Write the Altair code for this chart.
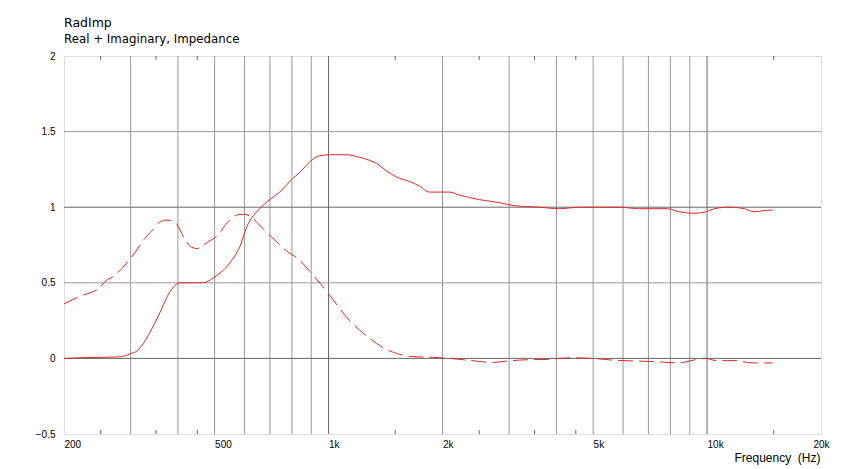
import altair as alt
import pandas as pd

# Real part (solid)
freq_real = [200, 226, 281, 299, 312, 337, 358, 381, 405, 465, 501, 548, 583, 608, 658,
             699, 743, 804, 839, 892, 947, 1006, 1116, 1208, 1284, 1339, 1423, 1512, 1636,
             1739, 1848, 2086, 2217, 2504, 2828, 3098, 3606, 4072, 4597, 5192, 5862, 6618,
             7848, 8440, 9243, 9943, 10444, 11440, 12530, 13315, 14590, 14900]
val_real = [0.0, 0.005, 0.01, 0.03, 0.05, 0.17, 0.30, 0.44, 0.50, 0.50, 0.54, 0.63, 0.74,
            0.87, 0.99, 1.05, 1.10, 1.19, 1.23, 1.30, 1.34, 1.347, 1.347, 1.33, 1.31, 1.29,
            1.24, 1.20, 1.17, 1.14, 1.10, 1.10, 1.08, 1.05, 1.03, 1.01, 1.0, 0.99, 1.0, 1.0,
            1.0, 0.99, 0.99, 0.97, 0.96, 0.97, 0.99, 1.0, 0.99, 0.97, 0.98, 0.98]

# Imaginary part (dashed)
freq_imag = [200, 220, 249, 257, 269, 293, 308, 331, 343, 358, 374, 393, 417, 435, 449, 480,
             507, 548, 576, 601, 631, 670, 730, 775, 839, 892, 947, 1006, 1070, 1137, 1208,
             1284, 1389, 1512, 1636, 1882, 2086, 2357, 2710, 2951, 3332, 3763, 4072, 4406,
             4976, 5756, 6618, 7612, 8440, 9130, 9946, 10568, 11936, 13152, 14406, 14900]
val_imag = [0.36, 0.41, 0.47, 0.51, 0.54, 0.63, 0.70, 0.81, 0.85, 0.90, 0.915, 0.90, 0.79,
            0.735, 0.727, 0.77, 0.81, 0.915, 0.95, 0.953, 0.925, 0.86, 0.77, 0.71, 0.65,
            0.575, 0.50, 0.42, 0.33, 0.25, 0.187, 0.133, 0.073, 0.033, 0.013, 0.007, 0.0,
            -0.013, -0.027, -0.018, -0.009, -0.007, 0.0, 0.004, 0.0, -0.013, -0.018, -0.024,
            -0.03, -0.013, 0.0, -0.015, -0.015, -0.03, -0.03, -0.03]

grid_light_x = [300, 400, 500, 600, 700, 800, 900, 2000, 3000, 4000, 5000, 6000, 7000, 8000, 9000]
grid_dark_x = [1000, 10000]
grid_light_y = [0.5, 1.5]
grid_dark_y = [0.0, 1.0]
minor_x = [250, 350, 450, 1500, 2500, 3500, 4500, 15000]

x_ticks = [200, 500, 1000, 2000, 5000, 10000, 20000]
y_ticks = [-0.5, 0, 0.5, 1, 1.5, 2]

W, H = 757, 378
RED = "#dc2828"

xscale = alt.Scale(type="log", domain=[200, 20000], nice=False)
yscale = alt.Scale(domain=[-0.5, 2], nice=False, zero=False)

x_axis = alt.Axis(
    values=x_ticks,
    labelExpr="datum.value >= 1000 ? format(datum.value / 1000, '~g') + 'k' : format(datum.value, '~g')",
    labelAlign={"condition": {"test": "datum.value >= 20000", "value": "center"}, "value": "left"},
    labelPadding=5, labelFlush=False, labelOverlap=False,
    ticks=False, domain=False, grid=False,
    title="Frequency\u00a0\u00a0(Hz)", titleAnchor="end", titleAlign="right",
    titleX=W - 1, titleY=18, titleBaseline="top", titleFontWeight="normal", titleFontSize=12,
)
y_axis = alt.Axis(values=y_ticks, format="~g", labelPadding=9, ticks=False,
                  domain=False, grid=False, title=None, labelOverlap=False)

X = lambda: alt.X("f:Q", scale=xscale, axis=x_axis)
Y = lambda: alt.Y("v:Q", scale=yscale, axis=y_axis)

df_real = pd.DataFrame({"f": freq_real, "v": val_real})
df_imag = pd.DataFrame({"f": freq_imag, "v": val_imag})

gl_x = alt.Chart(pd.DataFrame({"f": grid_light_x})).mark_rule(color="#999999", strokeWidth=1).encode(x=X())
gd_x = alt.Chart(pd.DataFrame({"f": grid_dark_x})).mark_rule(color="#666666", strokeWidth=1).encode(x=X())
gl_y = alt.Chart(pd.DataFrame({"v": grid_light_y})).mark_rule(color="#999999", strokeWidth=1).encode(y=Y())
gd_y = alt.Chart(pd.DataFrame({"v": grid_dark_y})).mark_rule(color="#666666", strokeWidth=1).encode(y=Y())

minor_df = pd.DataFrame({"f": minor_x})
minor_b = alt.Chart(minor_df).mark_rule(color="#666666", strokeWidth=1).encode(
    x=X(), y=alt.value(H), y2=alt.value(H - 4))
minor_t = alt.Chart(minor_df).mark_rule(color="#666666", strokeWidth=1).encode(
    x=X(), y=alt.value(0), y2=alt.value(4))

real = alt.Chart(df_real).mark_line(color=RED, strokeWidth=1, interpolate="monotone").encode(
    x=X(), y=Y())
imag = alt.Chart(df_imag).mark_line(color=RED, strokeWidth=1, interpolate="monotone",
                                    strokeDash=[15, 6]).encode(x=X(), y=Y())

chart = alt.layer(gl_x, gd_x, gl_y, gd_y, minor_b, minor_t, real, imag).properties(
    width=W, height=H,
    title=alt.TitleParams(text="RadImp", subtitle="Real + Imaginary, Impedance",
                          anchor="start", frame="group", font="DejaVu Sans", fontSize=12.5,
                          fontWeight="normal", subtitleFont="DejaVu Sans", subtitleFontSize=11.8,
                          color="#000000", subtitleColor="#000000", offset=5, subtitlePadding=4.5),
    autosize=alt.AutoSizeParams(type="none"),
    padding={"left": 56, "top": 48, "right": 15, "bottom": 35},
).configure_view(stroke="#555555", strokeWidth=1).configure_axis(
    labelFont="DejaVu Sans", labelFontSize=11, labelColor="#000000",
    titleFont="DejaVu Sans", titleColor="#000000",
).configure(background="white")

chart.save("out.html", embed_options={"renderer": "svg", "actions": False})
